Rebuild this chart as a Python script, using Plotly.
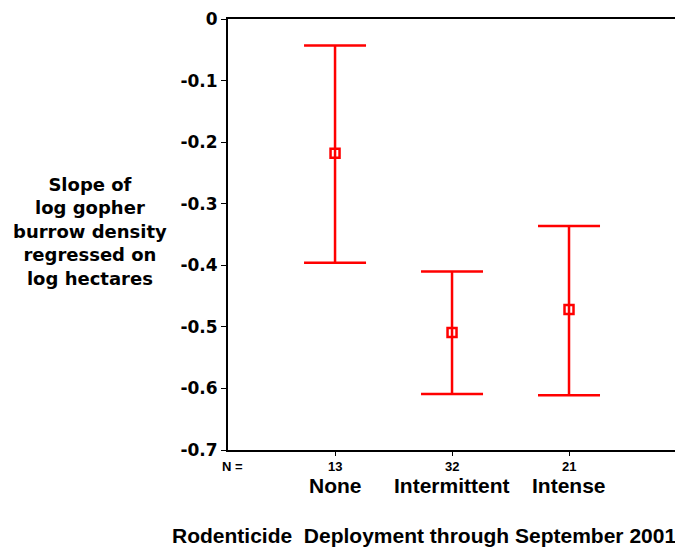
import plotly.graph_objects as go

# rodenticide groups
groups = ["None", "Intermittent", "Intense"]
n_counts = ["13", "32", "21"]
slope_mean = [-0.218, -0.509, -0.472]
ci_upper = [-0.043, -0.410, -0.336]
ci_lower = [-0.396, -0.609, -0.611]
y_ticks = [0, -0.1, -0.2, -0.3, -0.4, -0.5, -0.6, -0.7]

xpos = list(range(len(groups)))
err_plus = [u - m for u, m in zip(ci_upper, slope_mean)]
err_minus = [m - l for m, l in zip(slope_mean, ci_lower)]

arial = "Arial, Liberation Sans, sans-serif"
wide = "DejaVu Sans, sans-serif"
red = "#ff0000"

# page puts the plot 8px in from the corner, so work in screen pixels minus that
OFF = 8
L, R, T, B = 228 - OFF, 675 - OFF, 19 - OFF, 450 - OFF
W, H = R - L, B - T


def px_x(x):
    return (x - OFF - L) / W


def px_y(y):
    return (B - (y - OFF)) / H


fig = go.Figure()
fig.add_trace(go.Scatter(
    x=xpos, y=slope_mean, mode="markers",
    marker=dict(symbol="square-open", size=9, color=red, line=dict(width=2.5, color=red)),
    error_y=dict(type="data", symmetric=False, array=err_plus, arrayminus=err_minus,
                 color=red, thickness=2.5, width=31),
    showlegend=False,
))

fig.update_xaxes(range=[-0.915, 2.906], tickvals=xpos, ticktext=[""] * 3,
                 ticks="outside", ticklen=4, tickcolor="black", automargin=False,
                 showline=True, linecolor="black", linewidth=2, mirror=True,
                 showgrid=False, zeroline=False)
fig.update_yaxes(range=[-0.7, 0], tickvals=y_ticks, ticktext=[str(v) if v else "0" for v in y_ticks],
                 ticks="outside", ticklen=5, tickcolor="black", automargin=False,
                 ticklabeloverflow="allow",
                 tickfont=dict(family=wide, size=17, color="black", weight="bold"),
                 showline=True, linecolor="black", linewidth=2, mirror=True,
                 showgrid=False, zeroline=False)

ann = []
for x, n, g in zip(xpos, n_counts, groups):
    ann.append(dict(x=x, y=px_y(466), xref="x", yref="paper", text="<b>" + n + "</b>",
                    xanchor="center", yanchor="middle",
                    showarrow=False, font=dict(family=arial, size=13, color="black")))
    ann.append(dict(x=x, y=px_y(485), xref="x", yref="paper", text="<b>" + g + "</b>",
                    xanchor="center", yanchor="middle",
                    showarrow=False, font=dict(family=arial, size=21, color="black")))
ann.append(dict(x=px_x(232), y=px_y(466), xref="paper", yref="paper", text="<b>N =</b>",
                xanchor="center", yanchor="middle",
                showarrow=False, font=dict(family=arial, size=13, color="black")))
ann.append(dict(x=px_x(424), y=px_y(535), xref="paper", yref="paper",
                text="<b>Rodenticide  Deployment through September 2001</b>", showarrow=False,
                xanchor="center", yanchor="middle",
                font=dict(family=arial, size=21, color="black")))
ann.append(dict(x=px_x(90), y=px_y(231), xref="paper", yref="paper",
                text="<b>Slope of<br>log gopher<br>burrow density<br>regressed on<br>log hectares</b>",
                showarrow=False, align="center", xanchor="center", yanchor="middle",
                font=dict(family=wide, size=18, color="black")))

fig.update_layout(
    width=683, height=550,
    margin=dict(l=L, r=683 - R, t=T, b=550 - B, autoexpand=False),
    plot_bgcolor="white", paper_bgcolor="white",
    annotations=ann,
    font=dict(family=arial, color="black"),
)

fig.write_html("out.html")
